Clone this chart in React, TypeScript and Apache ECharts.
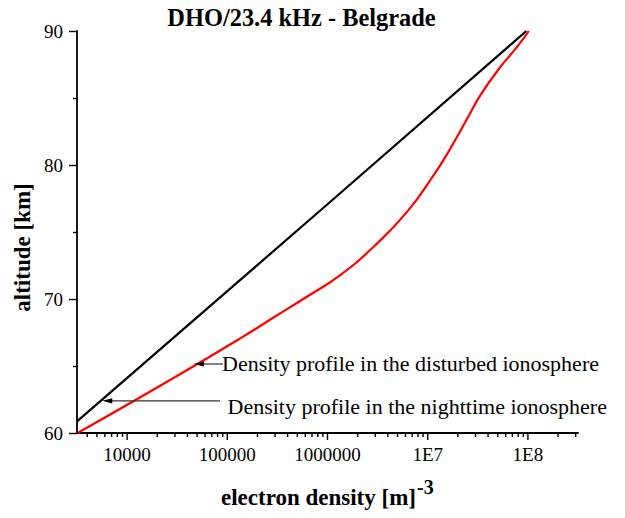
import React, { useEffect, useRef } from "react";
import * as echarts from "echarts";

const TITLE = "DHO/23.4 kHz - Belgrade";
const X_NAME = "electron density [m]";
const X_NAME_SUP = "-3";
const Y_NAME = "altitude [km]";

const X_MIN = 3162.28;
const X_MAX = 3.1623e8;
const xMajorTicks = [1e4, 1e5, 1e6, 1e7, 1e8];
const xMajorLabels = ["10000", "100000", "1000000", "1E7", "1E8"];
const yMin = 60;
const yMax = 90;
const yInterval = 10;

const nighttimeDensity = [3162.28, 1.0e6, 9.64e7];
const nighttimeAltitude = [60.87, 77.07, 90.0];

const disturbedDensity = [
  3206, 2.16e4, 1.36e5, 2.92e5, 6.28e5, 1.35e6, 2.9e6, 6.25e6, 1.15e7,
  1.69e7, 2.49e7, 3.37e7, 5.34e7, 7.84e7, 1.02e8,
];
const disturbedAltitude = [
  60.0, 63.54, 67.08, 68.64, 70.19, 71.8, 73.92, 76.52, 79.26, 81.25, 83.49,
  85.23, 87.34, 88.83, 90.0,
];

const ANNOTATIONS = [
  {
    text: "Density profile in the disturbed ionosphere",
    tip: [4.64e4, 65.15],
    lineEndX: 223,
    textX: 222,
    textY: 363,
  },
  {
    text: "Density profile in the nighttime ionosphere",
    tip: [5650, 62.4],
    lineEndX: 220,
    textX: 227.5,
    textY: 406,
  },
];

const FONT = "'Liberation Serif', 'Times New Roman', serif";

function minorTickValues(): number[] {
  const out: number[] = [];
  for (let k = 3; k <= 8; k++) {
    for (let m = 2; m <= 9; m++) {
      const v = m * Math.pow(10, k);
      if (v > X_MIN && v < X_MAX) out.push(v);
    }
  }
  return out;
}

export default function App() {
  const ref = useRef<HTMLDivElement>(null);

  useEffect(() => {
    if (!ref.current) return;
    const chart = echarts.init(ref.current, null, { renderer: "svg" });
    const labelFor = (v: number) => {
      const i = xMajorTicks.findIndex((t) => Math.abs(Math.log10(t) - Math.log10(v)) < 1e-6);
      return i >= 0 ? xMajorLabels[i] : "";
    };
    const option: any = {
      animation: false,
      backgroundColor: "#ffffff",
      grid: { left: 77, right: 47, top: 31, bottom: 85, containLabel: false, outerBoundsMode: "none" },
      xAxis: {
        type: "log",
        logBase: 10,
        min: X_MIN,
        max: X_MAX,
        position: "bottom",
        axisLine: { show: true, onZero: false, lineStyle: { color: "#000", width: 1.8 } },
        axisTick: { show: false },
        axisLabel: {
          show: true,
          customValues: xMajorTicks,
          formatter: (v: number) => labelFor(v),
          margin: 12,
          color: "#000",
          fontSize: 19,
          fontFamily: FONT,
        },
        splitLine: { show: false },
        minorTick: { show: false },
      },
      yAxis: {
        type: "value",
        min: yMin,
        max: yMax,
        interval: yInterval,
        axisLine: { show: true, onZero: false, lineStyle: { color: "#000", width: 1.8 } },
        axisTick: { show: true, inside: false, length: 8, lineStyle: { color: "#000", width: 1.4 } },
        minorTick: { show: true, splitNumber: 2, length: 4, lineStyle: { color: "#000", width: 1.4 } },
        axisLabel: { margin: 14, color: "#000", fontSize: 19, fontFamily: FONT },
        splitLine: { show: false },
      },
      series: [
        {
          name: "nighttime",
          type: "line",
          showSymbol: false,
          symbol: "none",
          data: nighttimeDensity.map((d, i) => [d, nighttimeAltitude[i]]),
          lineStyle: { color: "#000000", width: 2.2 },
          z: 2,
        },
        {
          name: "disturbed",
          type: "line",
          showSymbol: false,
          symbol: "none",
          smooth: 0.5,
          data: disturbedDensity.map((d, i) => [d, disturbedAltitude[i]]),
          lineStyle: { color: "#ff0000", width: 2.2 },
          z: 3,
        },
      ],
    };
    chart.setOption(option);

    const graphics: any[] = [
      {
        type: "text",
        x: 301.5,
        y: 17,
        style: {
          text: TITLE,
          fontSize: 24.4,
          fontWeight: "bold",
          fontFamily: FONT,
          fill: "#000",
          align: "center",
          verticalAlign: "middle",
        },
      },
      {
        type: "text",
        x: 22.5,
        y: 247.5,
        rotation: Math.PI / 2,
        style: {
          text: Y_NAME,
          fontSize: 23,
          fontWeight: "bold",
          fontFamily: FONT,
          fill: "#000",
          align: "center",
          verticalAlign: "middle",
        },
      },
      {
        type: "text",
        x: 416,
        y: 497,
        style: {
          text: X_NAME,
          fontSize: 23,
          fontWeight: "bold",
          fontFamily: FONT,
          fill: "#000",
          align: "right",
          verticalAlign: "middle",
        },
      },
      {
        type: "text",
        x: 417,
        y: 487,
        style: {
          text: X_NAME_SUP,
          fontSize: 20,
          fontWeight: "bold",
          fontFamily: FONT,
          fill: "#000",
          align: "left",
          verticalAlign: "middle",
        },
      },
    ];

    // x-axis ticks (major + minor), positioned through the chart's own log scale
    const tickList = [
      ...xMajorTicks.map((v) => ({ v, len: 7 })),
      ...minorTickValues().map((v) => ({ v, len: 4 })),
    ];
    tickList.forEach((t) => {
      const p = chart.convertToPixel({ xAxisIndex: 0, yAxisIndex: 0 }, [t.v, yMin]) as number[];
      graphics.push({
        type: "line",
        shape: { x1: p[0], y1: p[1], x2: p[0], y2: p[1] + t.len },
        style: { stroke: "#000", lineWidth: 1.4 },
        z: 5,
      });
    });

    ANNOTATIONS.forEach((a) => {
      const p = chart.convertToPixel({ xAxisIndex: 0, yAxisIndex: 0 }, a.tip) as number[];
      const [tx, ty] = p;
      graphics.push({
        type: "line",
        shape: { x1: tx + 6, y1: ty, x2: a.lineEndX, y2: ty },
        style: { stroke: "#333", lineWidth: 1.2 },
        z: 10,
      });
      graphics.push({
        type: "polygon",
        shape: { points: [[tx, ty], [tx + 10, ty - 2.6], [tx + 10, ty + 2.6]] },
        style: { fill: "#000" },
        z: 10,
      });
      graphics.push({
        type: "text",
        x: a.textX,
        y: a.textY,
        style: {
          text: a.text,
          fontSize: 22,
          fontFamily: FONT,
          fill: "#000",
          align: "left",
          verticalAlign: "middle",
        },
        z: 10,
      });
    });

    chart.setOption({ graphic: graphics });

    return () => {
      chart.dispose();
    };
  }, []);

  return (
    <div
      ref={ref}
      style={{ position: "fixed", left: 0, top: 0, width: 625, height: 518, background: "#fff" }}
    />
  );
}
